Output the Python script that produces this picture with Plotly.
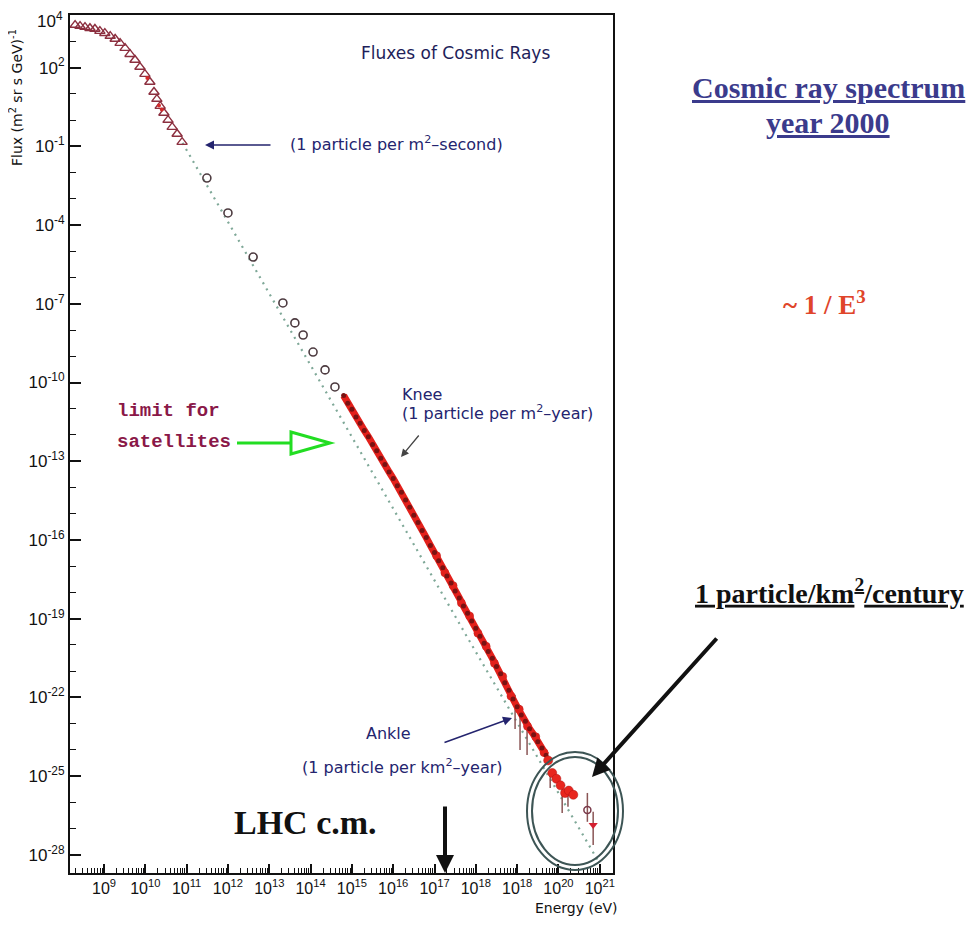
import plotly.graph_objects as go

# ---------------- data (log10 values) ----------------
tri_logE = [8.30, 8.42, 8.54, 8.66, 8.78, 8.90, 9.02, 9.15, 9.27, 9.39, 9.51, 9.63,
            9.75, 9.87, 9.99, 10.11, 10.21, 10.28, 10.36, 10.45, 10.55, 10.65, 10.77, 10.89]
tri_logF = [3.62, 3.58, 3.54, 3.50, 3.47, 3.39, 3.31, 3.20, 3.09, 2.93, 2.74, 2.51,
            2.29, 2.02, 1.75, 1.45, 1.07, 0.80, 0.53, 0.27, 0.00, -0.27, -0.53, -0.84]

lowred_logE = [10.05, 10.33, 10.40]
lowred_logF = [1.60, 0.55, 0.40]

circ_logE = [11.49, 12.00, 12.61, 13.33, 13.62, 13.82, 14.06, 14.35, 14.59]
circ_logF = [-2.21, -3.54, -5.22, -6.97, -7.73, -8.19, -8.84, -9.52, -10.17]

band_logE = [14.80, 14.90, 15.00, 15.10, 15.20, 15.30, 15.40, 15.50, 15.60, 15.70,
             15.80, 15.90, 16.00, 16.10, 16.20, 16.30, 16.40, 16.50, 16.60, 16.70,
             16.80, 16.90, 17.00, 17.10, 17.20, 17.30, 17.40, 17.50, 17.60, 17.70,
             17.80, 17.90, 18.00, 18.10, 18.20, 18.30, 18.40, 18.50, 18.60, 18.70,
             18.80, 18.90, 19.00, 19.10, 19.20, 19.30, 19.40, 19.50, 19.60, 19.70]
band_logF = [-10.50, -10.79, -11.02, -11.31, -11.55, -11.83, -12.07, -12.36, -12.60, -12.89,
             -13.12, -13.41, -13.66, -13.93, -14.18, -14.48, -14.75, -15.06, -15.33, -15.64,
             -15.91, -16.21, -16.48, -16.79, -17.06, -17.37, -17.64, -17.94, -18.21, -18.52,
             -18.79, -19.09, -19.36, -19.67, -19.94, -20.25, -20.51, -20.82, -21.10, -21.44,
             -21.73, -22.06, -22.36, -22.67, -22.91, -23.19, -23.42, -23.69, -23.93, -24.20]

band2_logE = [17.05, 17.25, 17.45, 17.65, 17.85, 18.05, 18.25, 18.45, 18.65, 18.85,
              19.05, 19.25, 19.45, 19.65]
band2_logF = [-16.60, -17.25, -17.74, -18.40, -18.90, -19.55, -20.05, -20.70, -21.20, -21.95,
              -22.45, -23.10, -23.50, -24.10]

he_logE = [19.75, 19.85, 19.95, 20.05, 20.16, 20.25, 20.36]
he_logF = [-24.40, -24.88, -25.10, -25.35, -25.64, -25.55, -25.71]

err_logE = [18.95, 19.07, 19.24, 19.80, 20.09, 20.23, 20.70, 20.84]
err_lo = [-23.20, -24.00, -24.19, -25.45, -26.40, -26.17, -26.74, -27.62]
err_hi = [-21.90, -22.29, -22.97, -24.84, -25.41, -25.52, -25.64, -26.36]

hc_logE = [20.70]
hc_logF = [-26.29]
ht_logE = [20.84]
ht_logF = [-26.86]

line_logE = [10.90, 14.35, 17.79, 20.95]
line_logF = [-0.87, -10.29, -19.70, -28.20]

xtick_exp = [9, 10, 11, 12, 13, 14, 15, 16, 17, 18, 19, 20, 21]
xtick_lab = ["9", "10", "11", "12", "13", "14", "15", "16", "17", "18", "18", "20", "21"]
ytick_exp = [4, 2, -1, -4, -7, -10, -13, -16, -19, -22, -25, -28]
ytick_lab = ["4", "2", "-1", "-4", "-7", "-10", "-13", "-16", "-19", "-22", "-25", "-28"]


def p10(v):
    return [10.0 ** a for a in v]


# ---------------- geometry (page has an 8px body margin) ----------------
OFF = 8
W, H = 979 - OFF, 926 - OFF
PL, PR, PT, PB = 70, 613, 15, 873          # plot frame in page pixels
L, T = PL - OFF, PT - OFF
R, B = W - (PR - OFF), H - (PB - OFF)
PW = PR - PL
PH = PB - PT


def X(px):
    return (px - PL) / PW


def Y(py):
    return (PB - py) / PH


fig = go.Figure()

fig.add_trace(go.Scatter(x=p10(line_logE), y=p10(line_logF), mode="lines",
                         line=dict(color="#7fa898", width=2.2, dash="2px,5px"),
                         hoverinfo="skip"))

fig.add_trace(go.Scatter(x=p10(tri_logE), y=p10(tri_logF), mode="markers",
                         marker=dict(symbol="triangle-up-open", size=9, color="#8c2f3f",
                                     line=dict(width=1.4))))
fig.add_trace(go.Scatter(x=p10(lowred_logE), y=p10(lowred_logF), mode="markers",
                         marker=dict(symbol="circle", size=4, color="#d42a2a")))
fig.add_trace(go.Scatter(x=p10(circ_logE), y=p10(circ_logF), mode="markers",
                         marker=dict(symbol="circle-open", size=8, color="#4d3b40",
                                     line=dict(width=1.6))))

# error bars
ex, ey = [], []
for e, lo, hi in zip(err_logE, err_lo, err_hi):
    ex += [10.0 ** e, 10.0 ** e, None]
    ey += [10.0 ** lo, 10.0 ** hi, None]
fig.add_trace(go.Scatter(x=ex, y=ey, mode="lines",
                         line=dict(color="#8a5555", width=1.5), hoverinfo="skip"))

fig.add_trace(go.Scatter(x=p10(band2_logE), y=p10(band2_logF), mode="markers",
                         marker=dict(symbol="circle", size=8, color="#e8261e",
                                     line=dict(width=0.5, color="#b01515"))))
fig.add_trace(go.Scatter(x=p10(band_logE), y=p10(band_logF), mode="lines+markers",
                         line=dict(color="#e3201b", width=7),
                         marker=dict(symbol="circle", size=5, color="#7a1212",
                                     line=dict(width=0))))
fig.add_trace(go.Scatter(x=p10(he_logE), y=p10(he_logF), mode="markers",
                         marker=dict(symbol="circle", size=9, color="#e8261e",
                                     line=dict(width=0.5, color="#b01515"))))
fig.add_trace(go.Scatter(x=p10(hc_logE), y=p10(hc_logF), mode="markers",
                         marker=dict(symbol="circle-open", size=7, color="#7a3a4a",
                                     line=dict(width=1.5))))
fig.add_trace(go.Scatter(x=p10(ht_logE), y=p10(ht_logF), mode="markers",
                         marker=dict(symbol="triangle-down", size=8, color="#d42030")))

# ---------------- annotations ----------------
SANS = "DejaVu Sans"
SERIF = "Liberation Serif"
NAVY = "#24246e"
ann = []


def txt(px, py, text, size, color, family=SANS, xanchor="center", **kw):
    ann.append(dict(x=X(px), y=Y(py), xref="paper", yref="paper", text=text,
                    showarrow=False, xanchor=xanchor, yanchor="middle",
                    font=dict(size=size, color=color, family=family), **kw))


def arrow(hx, hy, tx, ty, color, width, head=2, size=1.0):
    ann.append(dict(x=X(hx), y=Y(hy), xref="paper", yref="paper", text="",
                    showarrow=True, ax=tx - hx, ay=ty - hy, axref="pixel", ayref="pixel",
                    arrowhead=head, arrowsize=size, arrowwidth=width, arrowcolor=color))


# top y label placed just inside the page so it is not clipped
txt(65, 20, "10<sup>" + ytick_lab[0] + "</sup>", 17, "#111111",
    family="Liberation Sans", xanchor="right")

txt(455, 53, "Fluxes of Cosmic Rays", 17, "#1e1e5a")
txt(288, 143, "(1 particle per m<sup>2</sup>\u2013second)", 16, NAVY, xanchor="left")
arrow(205, 145, 272, 145, NAVY, 1.5, head=2, size=1.2)
txt(400, 394, "Knee", 16, NAVY, xanchor="left")
txt(400, 413, "(1 particle per m<sup>2</sup>\u2013year)", 16, NAVY, xanchor="left")
arrow(401, 457, 420, 434, "#444444", 1.3, head=2, size=1.2)
txt(388, 733, "Ankle", 16, NAVY)
txt(505, 766, "(1 particle per km<sup>2</sup>\u2013year)", 16, NAVY, xanchor="right")
arrow(512, 718, 443, 743, NAVY, 1.5, head=2, size=1.2)

txt(115, 411, "<b>limit for</b>", 19, "#8a1848", family="Liberation Mono", xanchor="left")
txt(115, 442, "<b>satellites</b>", 19, "#8a1848", family="Liberation Mono", xanchor="left")

txt(305, 822, "<b>LHC c.m.</b>", 34, "#111111", family=SERIF)
arrow(445, 873, 445, 805, "#111111", 4, head=2, size=0.9)

txt(828, 87, "<b><u>Cosmic ray spectrum</u></b>", 30, "#3b3b8c", family=SERIF)
txt(828, 123, "<b><u>year 2000</u></b>", 30, "#3b3b8c", family=SERIF)
txt(824, 303, "<b>~ 1 / E<sup>3</sup></b>", 27, "#e0452a", family=SERIF)
txt(693, 592, "<b><u>1 particle/km<sup>2</sup>/century</u></b>", 28, "#111111",
    family=SERIF, xanchor="left")
arrow(592, 777, 718, 637, "#111111", 4, head=2, size=0.9)

txt(576, 908, "Energy (eV)", 14, "#111111")
ann.append(dict(x=X(16), y=Y(98), xref="paper", yref="paper",
                text="Flux (m<sup>2</sup> sr s GeV)<sup>-1</sup>", showarrow=False,
                textangle=-90, xanchor="center", yanchor="middle",
                font=dict(size=14, color="#111111", family=SANS)))

# ---------------- shapes ----------------
shapes = [
    dict(type="circle", xref="paper", yref="paper", x0=X(527), x1=X(623),
         y0=Y(870), y1=Y(752), line=dict(color="#3d5555", width=2)),
    dict(type="circle", xref="paper", yref="paper", x0=X(532), x1=X(618),
         y0=Y(865), y1=Y(757), line=dict(color="#3d5555", width=2)),
    dict(type="line", xref="paper", yref="paper", x0=X(237), x1=X(291),
         y0=Y(443), y1=Y(443), line=dict(color="#22dd22", width=3)),
    dict(type="path", xref="paper", yref="paper",
         path="M {:.5f} {:.5f} L {:.5f} {:.5f} L {:.5f} {:.5f} Z".format(
             X(291), Y(432), X(330), Y(443), X(291), Y(454)),
         line=dict(color="#22dd22", width=3)),
    dict(type="line", xref="paper", yref="paper", x0=X(977), x1=X(977),
         y0=Y(896), y1=Y(926), line=dict(color="#999999", width=1)),
]

# minor ticks
xminor = []
for d in range(8, 22):
    for m in range(2, 10):
        xminor.append(m * 10.0 ** d)
yminor = [10.0 ** e for e in range(-28, 5)]

fig.update_layout(
    width=W, height=H, margin=dict(l=L, r=R, t=T, b=B, autoexpand=False),
    paper_bgcolor="white", plot_bgcolor="white", showlegend=False,
    annotations=ann, shapes=shapes,
    xaxis=dict(type="log", range=[8.177, 21.32], automargin=False,
               ticklabeloverflow="allow",
               tickvals=p10(xtick_exp),
               ticktext=["10<sup>" + s + "</sup>" for s in xtick_lab],
               ticks="inside", ticklen=9, tickwidth=1.5, tickcolor="#111111",
               minor=dict(tickvals=xminor, ticks="inside", ticklen=5, tickwidth=1,
                          tickcolor="#111111"),
               showline=True, linewidth=2, linecolor="#111111", mirror=True,
               showgrid=False, zeroline=False,
               tickfont=dict(size=16, color="#111111", family="Liberation Sans")),
    yaxis=dict(type="log", range=[-28.69, 4.003], automargin=False,
               ticklabeloverflow="allow",
               tickvals=p10(ytick_exp),
               ticktext=[""] + ["10<sup>" + s + "</sup>" for s in ytick_lab[1:]],
               ticks="inside", ticklen=11, tickwidth=1.5, tickcolor="#111111",
               minor=dict(tickvals=yminor, ticks="inside", ticklen=6, tickwidth=1,
                          tickcolor="#111111"),
               showline=True, linewidth=2, linecolor="#111111", mirror=True,
               showgrid=False, zeroline=False,
               tickfont=dict(size=17, color="#111111", family="Liberation Sans")),
)

fig.write_html("out.html")
